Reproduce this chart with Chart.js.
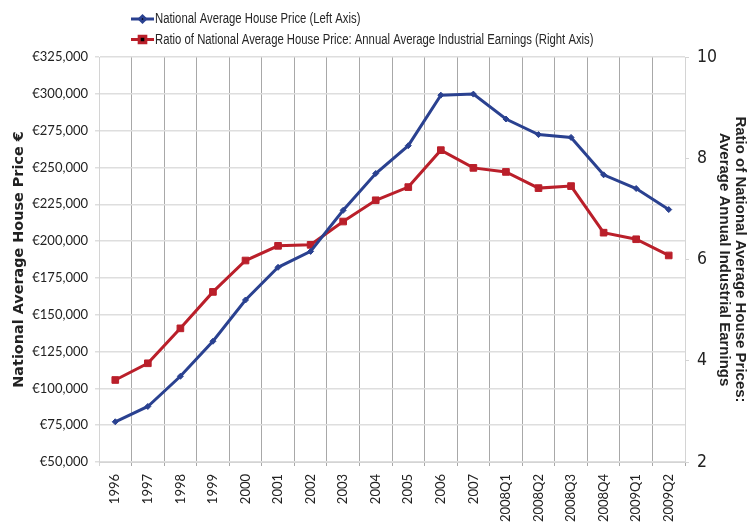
<!DOCTYPE html>
<html>
<head>
<meta charset="utf-8">
<script src="https://cdn.jsdelivr.net/npm/chart.js@4.4.1/dist/chart.umd.min.js"></script>
<style>
  html, body { margin: 0; padding: 0; background: #ffffff; }
  #wrap { width: 749px; height: 524px; }
</style>
</head>
<body>
<div id="wrap"><canvas id="chart" width="749" height="524"></canvas></div>
<script>
// Periods on the horizontal axis
const categories = ['1996', '1997', '1998', '1999', '2000', '2001', '2002', '2003', '2004',
  '2005', '2006', '2007', '2008Q1', '2008Q2', '2008Q3', '2008Q4', '2009Q1', '2009Q2'];

// National average house price, euro (left axis)
const housePrice = [77300, 87700, 108200, 132000, 160000, 182200, 193000, 220900, 245900,
  264800, 299100, 299800, 282900, 272300, 270400, 245000, 235700, 221400];

// Ratio of house price to annual average industrial earnings (right axis)
const priceToEarnings = [3.62, 3.95, 4.64, 5.36, 5.98, 6.27, 6.29, 6.75, 7.17,
  7.43, 8.16, 7.81, 7.73, 7.41, 7.45, 6.53, 6.40, 6.08];

// Axis ranges and tick steps
const leftAxis = { min: 50000, max: 325000, step: 25000 };
const rightAxis = { min: 2, max: 10, step: 2 };

const seriesNames = [
  'National Average House Price (Left Axis)',
  'Ratio of National Average House Price: Annual Average Industrial Earnings (Right Axis)'
];
const leftTitle = 'National Average House Price €';
const rightTitle = ['Ratio of National Average House Prices:', 'Average Annual Industrial Earnings'];

const BLUE = '#2A4190';
const RED = '#BA1F2A';
const LABEL_FONT = 'Lato, "Open Sans", sans-serif';
const CONDENSED_FONT = '"DejaVu Sans Condensed", "Liberation Sans", sans-serif';

// Two-row legend: line sample with its marker, then the series name
// (names set in a horizontally condensed sans)
const seriesLegend = {
  id: 'seriesLegend',
  afterDraw(chart) {
    const ctx = chart.ctx;
    const squeeze = 0.82;
    ctx.save();
    chart.data.datasets.forEach((ds, i) => {
      const y = 19 + i * 20.5;
      ctx.strokeStyle = ds.borderColor;
      ctx.lineWidth = 3;
      ctx.beginPath();
      ctx.moveTo(131, y);
      ctx.lineTo(154, y);
      ctx.stroke();
      Chart.helpers.drawPoint(ctx, {
        pointStyle: ds.pointStyle,
        radius: ds.pointRadius,
        rotation: 0,
        borderWidth: 1
      }, 142.5, y);
      ctx.save();
      ctx.translate(155, y + 0.5);
      ctx.scale(squeeze, 1);
      ctx.fillStyle = '#262626';
      ctx.font = '13.8px "Liberation Sans", Arial, sans-serif';
      ctx.textAlign = 'left';
      ctx.textBaseline = 'middle';
      ctx.fillText(ds.label, 0, 0);
      ctx.restore();
    });
    ctx.restore();
  }
};

const euro = v => '€' + Number(v).toLocaleString('en-US');

new Chart(document.getElementById('chart'), {
  type: 'line',
  data: {
    labels: categories,
    datasets: [
      {
        label: seriesNames[0],
        data: housePrice,
        yAxisID: 'y',
        borderColor: BLUE,
        backgroundColor: BLUE,
        borderWidth: 3,
        pointStyle: 'rectRot',
        pointRadius: 3,
        pointBorderWidth: 1,
        tension: 0
      },
      {
        label: seriesNames[1],
        data: priceToEarnings,
        yAxisID: 'y1',
        borderColor: RED,
        backgroundColor: RED,
        borderWidth: 3,
        pointStyle: 'rect',
        pointRadius: 4.7,
        pointBorderWidth: 1,
        tension: 0
      }
    ]
  },
  options: {
    responsive: false,
    devicePixelRatio: 1,
    animation: false,
    layout: { padding: { top: 57, left: 0, right: 0, bottom: 0 } },
    plugins: {
      legend: { display: false },
      tooltip: { enabled: false }
    },
    scales: {
      x: {
        type: 'category',
        offset: true,
        grid: {
          offset: true,
          color: c => (c.index === 0 || c.index === categories.length) ? '#d4d4d4' : '#a8a8a8',
          lineWidth: 1,
          tickLength: 4
        },
        border: { color: '#d4d4d4', width: 1 },
        ticks: {
          autoSkip: false,
          minRotation: 90,
          maxRotation: 90,
          padding: 8,
          color: '#222222',
          font: { family: LABEL_FONT, size: 13 }
        },
        afterFit: s => { s.height = 62; }
      },
      y: {
        position: 'left',
        min: leftAxis.min,
        max: leftAxis.max,
        ticks: {
          stepSize: leftAxis.step,
          padding: 7,
          color: '#222222',
          font: { family: LABEL_FONT, size: 13 },
          callback: v => euro(v)
        },
        grid: { color: '#dedede', lineWidth: 1.5, tickLength: 4 },
        border: { color: '#d4d4d4', width: 1 },
        title: {
          display: true,
          text: leftTitle,
          color: '#222222',
          font: { family: '"DejaVu Sans", Verdana, sans-serif', size: 14.4, weight: 'bold' },
          padding: { top: 11, bottom: 0 }
        },
        afterFit: s => { s.width = 99; }
      },
      y1: {
        position: 'right',
        min: rightAxis.min,
        max: rightAxis.max,
        ticks: {
          stepSize: rightAxis.step,
          padding: 8,
          color: '#222222',
          font: { family: CONDENSED_FONT, size: 17.5 }
        },
        grid: { drawOnChartArea: false, color: '#d4d4d4', tickLength: 4 },
        border: { color: '#d4d4d4', width: 1 },
        title: {
          display: true,
          text: rightTitle,
          color: '#222222',
          font: { family: '"Liberation Sans", Arial, sans-serif', size: 15, weight: 'bold', lineHeight: 1.05 },
          padding: { top: 1, bottom: 0 }
        },
        afterFit: s => { s.width = 64; }
      }
    }
  },
  plugins: [seriesLegend]
});
</script>
</body>
</html>
